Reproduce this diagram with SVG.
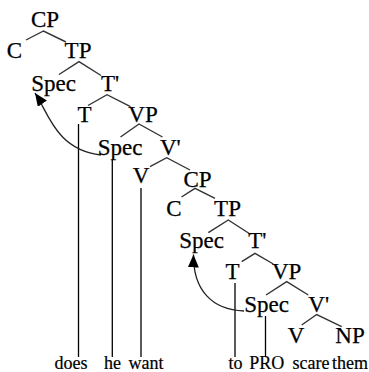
<svg xmlns="http://www.w3.org/2000/svg" width="369" height="372" viewBox="0 0 369 372">
<style>
.n{font-family:"Liberation Serif","Times New Roman",serif;font-size:23px;fill:#000;text-anchor:middle;stroke:#000;stroke-width:0.25}
.w{font-family:"Liberation Serif","Times New Roman",serif;font-size:18px;fill:#000;text-anchor:middle;stroke:#000;stroke-width:0.2}
.s{text-anchor:start}
.b{fill:none;stroke:#333;stroke-width:1.4}
.v{fill:none;stroke:#000;stroke-width:1.3}
.a{fill:none;stroke:#222;stroke-width:1.3}
</style>
<defs>
<marker id="ah" markerUnits="userSpaceOnUse" markerWidth="13" markerHeight="11" refX="13" refY="5.5" orient="auto">
<path d="M0,0 L13,5.5 L0,11 z" fill="#000"/>
</marker>
</defs>
<rect width="369" height="372" fill="#fff"/>
<g id="connectors">
<polyline class="b" points="26,40 43.5,31 66,42"/>
<polyline class="b" points="59,74.5 79,61.7 101,75.5"/>
<polyline class="b" points="88,105.5 107,94.7 130.5,106.7"/>
<polyline class="b" points="120.5,137 139,124 162.5,137"/>
<polyline class="b" points="150,166.7 166.7,157.7 190,170"/>
<polyline class="b" points="181.5,197 195,188.3 215,198.3"/>
<polyline class="b" points="208.3,232.7 228.3,220 250,234"/>
<polyline class="b" points="241.7,261.7 255,253.3 273.3,264"/>
<polyline class="b" points="266,295 286.7,281.7 308.3,295"/>
<polyline class="b" points="301.7,325 316.7,314.5 341.7,326.7"/>
<line class="v" x1="78.5" y1="124" x2="78.5" y2="357"/>
<line class="v" x1="112.3" y1="160" x2="112.3" y2="357"/>
<line class="v" x1="141" y1="188" x2="141" y2="357"/>
<line class="v" x1="235" y1="283" x2="235" y2="357"/>
<line class="v" x1="265.5" y1="316" x2="265.5" y2="357"/>
<path class="a" d="M101,155 C56,150 48,112 35,93" marker-end="url(#ah)"/>
<path class="a" d="M244,311 C212,310 193,290 193.5,254.5" marker-end="url(#ah)"/>
</g>
<g id="n-CP1"><text class="n" x="45" y="27">CP</text></g>
<g id="n-C1"><text class="n" x="14.5" y="58.3">C</text></g>
<g id="n-TP1"><text class="n" x="78" y="58.3">TP</text></g>
<g id="n-Spec1"><text class="n" x="53.7" y="90.7">Spec</text></g>
<g id="n-Tbar1"><text class="n s" x="101" y="90.7">T'</text></g>
<g id="n-T1"><text class="n" x="84.5" y="121.7">T</text></g>
<g id="n-VP1"><text class="n" x="143" y="121.7">VP</text></g>
<g id="n-Spec2"><text class="n" x="120" y="155">Spec</text></g>
<g id="n-Vbar1"><text class="n s" x="160" y="155">V'</text></g>
<g id="n-V1"><text class="n" x="141" y="183.3">V</text></g>
<g id="n-CP2"><text class="n" x="197.5" y="186.7">CP</text></g>
<g id="n-C2"><text class="n" x="174" y="215.7">C</text></g>
<g id="n-TP2"><text class="n" x="227.5" y="215.7">TP</text></g>
<g id="n-Spec3"><text class="n" x="201.7" y="248.3">Spec</text></g>
<g id="n-Tbar2"><text class="n s" x="248.3" y="248.3">T'</text></g>
<g id="n-T2"><text class="n" x="232.5" y="279.3">T</text></g>
<g id="n-VP2"><text class="n" x="286.7" y="279.3">VP</text></g>
<g id="n-Spec4"><text class="n" x="266.7" y="311.7">Spec</text></g>
<g id="n-Vbar2"><text class="n s" x="308.3" y="311.7">V'</text></g>
<g id="n-V2"><text class="n" x="296" y="343.3">V</text></g>
<g id="n-NP"><text class="n" x="350" y="343.3">NP</text></g>
<g id="words">
<text class="w" x="71" y="368.5">does</text>
<text class="w" x="112.5" y="368.5">he</text>
<text class="w" x="146" y="368.5">want</text>
<text class="w" x="235.5" y="368.5">to</text>
<text class="w" x="266.7" y="368.5">PRO</text>
<text class="w" x="311" y="368.5">scare</text>
<text class="w s" x="332" y="368.5">them</text>
</g>
</svg>
